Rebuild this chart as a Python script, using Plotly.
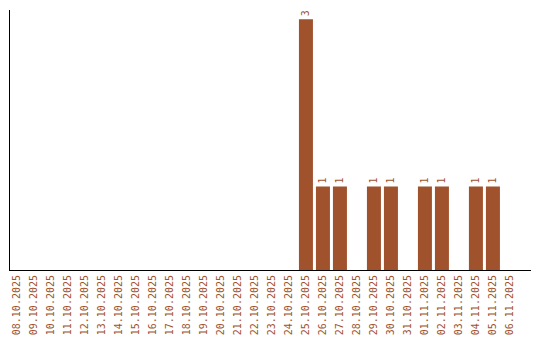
import plotly.graph_objects as go

dates = ["08.10.2025", "09.10.2025", "10.10.2025", "11.10.2025", "12.10.2025",
         "13.10.2025", "14.10.2025", "15.10.2025", "16.10.2025", "17.10.2025",
         "18.10.2025", "19.10.2025", "20.10.2025", "21.10.2025", "22.10.2025",
         "23.10.2025", "24.10.2025", "25.10.2025", "26.10.2025", "27.10.2025",
         "28.10.2025", "29.10.2025", "30.10.2025", "31.10.2025", "01.11.2025",
         "02.11.2025", "03.11.2025", "04.11.2025", "05.11.2025", "06.11.2025"]
counts = [0, 0, 0, 0, 0, 0, 0, 0, 0, 0,
          0, 0, 0, 0, 0, 0, 0, 3, 1, 1,
          0, 1, 1, 0, 1, 1, 0, 1, 1, 0]

color = "#A0522D"
labels = [str(v) if v > 0 else "" for v in counts]

fig = go.Figure(go.Bar(
    x=dates, y=counts, marker_color=color, marker_line_width=0,
    text=labels, textposition="outside", textangle=-90,
    textfont=dict(family="DejaVu Sans Mono", size=10, color=color),
    cliponaxis=False,
))
fig.update_layout(
    width=540, height=340,
    margin=dict(l=10, r=9, t=10, b=70),
    paper_bgcolor="white", plot_bgcolor="white",
    bargap=0.176, showlegend=False,
    font=dict(family="DejaVu Sans Mono", size=10, color=color),
)
fig.update_xaxes(type="category", range=[-0.41, 30.24], automargin=False,
                 tickangle=-90, showline=True, linecolor="black",
                 linewidth=1, ticks="", showgrid=False,
                 tickfont=dict(family="DejaVu Sans Mono", size=10, color=color))
fig.update_yaxes(range=[0, 3.11], automargin=False, showline=True,
                 linecolor="black", linewidth=1,
                 showticklabels=False, ticks="", showgrid=False, zeroline=False)
fig.write_html("out.html")
